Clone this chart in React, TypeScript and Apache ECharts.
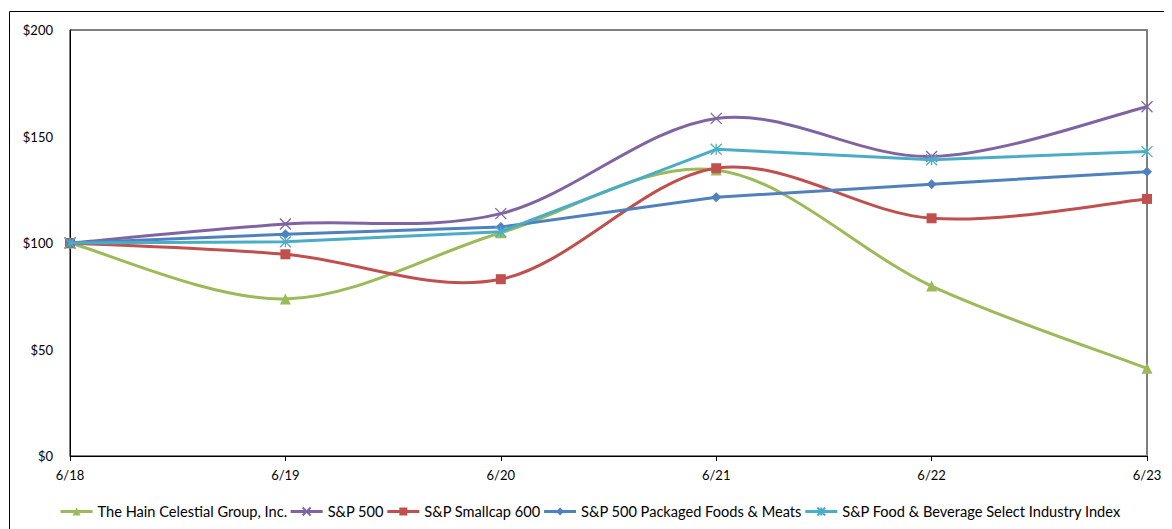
import React, { useEffect, useRef } from "react";
import * as echarts from "echarts";

const categories = ["6/18", "6/19", "6/20", "6/21", "6/22", "6/23"];
const yTicks = { min: 0, max: 200, interval: 50 };

const hain = [100, 73.7, 104.8, 134.3, 79.8, 41.2];
const sp500 = [100, 108.9, 113.8, 158.5, 140.6, 164.0];
const smallcap = [100, 94.7, 83.0, 135.1, 111.6, 120.7];
const packaged = [100, 104.1, 107.5, 121.5, 127.6, 133.5];
const foodBev = [100, 100.6, 105.3, 144.0, 139.1, 142.9];

const seriesNames = [
  "The Hain Celestial Group, Inc.",
  "S&P 500",
  "S&P Smallcap 600",
  "S&P 500 Packaged Foods & Meats",
  "S&P Food & Beverage Select Industry Index",
];

const FONT = "Lato";

export default function App() {
  const ref = useRef<HTMLDivElement>(null);
  useEffect(() => {
    if (!ref.current) return;
    const chart = echarts.init(ref.current, undefined, { renderer: "svg" });
    const xSym = "path://M0,0L10,10M10,0L0,10";
    const starSym = "path://M0,0L10,10M10,0L0,10M5,0L5,10";

    // Excel-like smooth curve (Catmull-Rom) drawn through the axis coordinates
    const curve = (name: string, data: number[], color: string, z: number) => ({
      name: name + " (curve)",
      type: "custom",
      z,
      silent: true,
      data: data.map((v, i) => [i, v]),
      encode: { x: 0, y: 1 },
      renderItem: (params: any, api: any) => {
        const i = params.dataIndex;
        const n = data.length;
        if (i >= n - 1) return null;
        const pt = (k: number) => {
          const kk = Math.max(0, Math.min(n - 1, k));
          return api.coord([kk, data[kk]]);
        };
        const p0 = pt(i - 1);
        const p1 = pt(i);
        const p2 = pt(i + 1);
        const p3 = pt(i + 2);
        const t = 1 / 6;
        return {
          type: "bezierCurve",
          shape: {
            x1: p1[0],
            y1: p1[1],
            cpx1: p1[0] + (p2[0] - p0[0]) * t,
            cpy1: p1[1] + (p2[1] - p0[1]) * t,
            cpx2: p2[0] - (p3[0] - p1[0]) * t,
            cpy2: p2[1] - (p3[1] - p1[1]) * t,
            x2: p2[0],
            y2: p2[1],
          },
          style: { stroke: color, lineWidth: 3, fill: null, lineCap: "round" },
        };
      },
    });

    const mk = (
      name: string,
      data: number[],
      color: string,
      symbol: string,
      size: number,
      stroke: boolean,
      z: number,
      showLine: boolean
    ) => ({
      name,
      type: "line",
      z,
      data,
      symbol,
      symbolSize: size,
      showSymbol: true,
      lineStyle: { color, width: 3, opacity: showLine ? 1 : 0 },
      itemStyle: stroke
        ? { color: "rgba(0,0,0,0)", borderColor: color, borderWidth: 1.3 }
        : { color, borderColor: color, borderWidth: 0 },
      emphasis: { disabled: true },
    });

    const defs: [number[], string, string, number, boolean, boolean][] = [
      [hain, "#9BBB59", "triangle", 11, false, true],
      [sp500, "#8064A2", xSym, 11, true, true],
      [smallcap, "#C0504D", "rect", 10, false, true],
      [packaged, "#4F81BD", "diamond", 10, false, false],
      [foodBev, "#4BACC6", starSym, 11, true, false],
    ];
    const series: any[] = [];
    defs.forEach((d, k) => {
      const smooth = d[5];
      if (smooth) series.push(curve(seriesNames[k], d[0], d[1], 2 + k * 2));
      series.push(mk(seriesNames[k], d[0], d[1], d[2], d[3], d[4], 3 + k * 2, !smooth));
    });

    chart.setOption({
      animation: false,
      textStyle: { fontFamily: FONT },
      graphic: [
        {
          type: "rect",
          shape: { x: 1.5, y: 3.5, width: 3000, height: 3000 },
          style: { fill: "none", stroke: "#000", lineWidth: 1 },
          silent: true,
        },
      ],
      grid: {
        left: 62,
        top: 22,
        right: 25,
        bottom: 73,
        show: true,
        borderColor: "#000",
        borderWidth: 1,
        containLabel: false,
      },
      legend: {
        data: seriesNames,
        top: 491,
        left: "center",
        itemWidth: 32,
        itemHeight: 10,
        itemGap: 2,
        lineStyle: { opacity: 1, width: 3 },
        textStyle: { fontFamily: FONT, fontSize: 14.6, color: "#000" },
      },
      xAxis: {
        type: "category",
        data: categories,
        boundaryGap: false,
        axisLine: { show: true, lineStyle: { color: "#000", width: 1 } },
        axisTick: { show: true, alignWithLabel: true, length: 5, lineStyle: { color: "#000" } },
        axisLabel: { fontFamily: FONT, fontSize: 13, color: "#000", margin: 12 },
        splitLine: { show: false },
      },
      yAxis: [
        {
          type: "value",
          min: yTicks.min,
          max: yTicks.max,
          interval: yTicks.interval,
          axisLine: { show: true, lineStyle: { color: "#000", width: 1 } },
          axisTick: { show: false },
          splitLine: { show: false },
          axisLabel: {
            fontFamily: FONT,
            fontSize: 13,
            color: "#000",
            margin: 17,
            formatter: (v: number) => "$" + v,
          },
        },
        {
          type: "value",
          position: "right",
          min: yTicks.min,
          max: yTicks.max,
          interval: yTicks.interval,
          axisLine: { show: true, lineStyle: { color: "#7f7f7f", width: 2 } },
          axisTick: { show: false },
          axisLabel: { show: false },
          splitLine: { show: false },
        },
      ],
      series,
    });
    return () => chart.dispose();
  }, []);
  return <div ref={ref} style={{ width: 1164, height: 521 }} />;
}
